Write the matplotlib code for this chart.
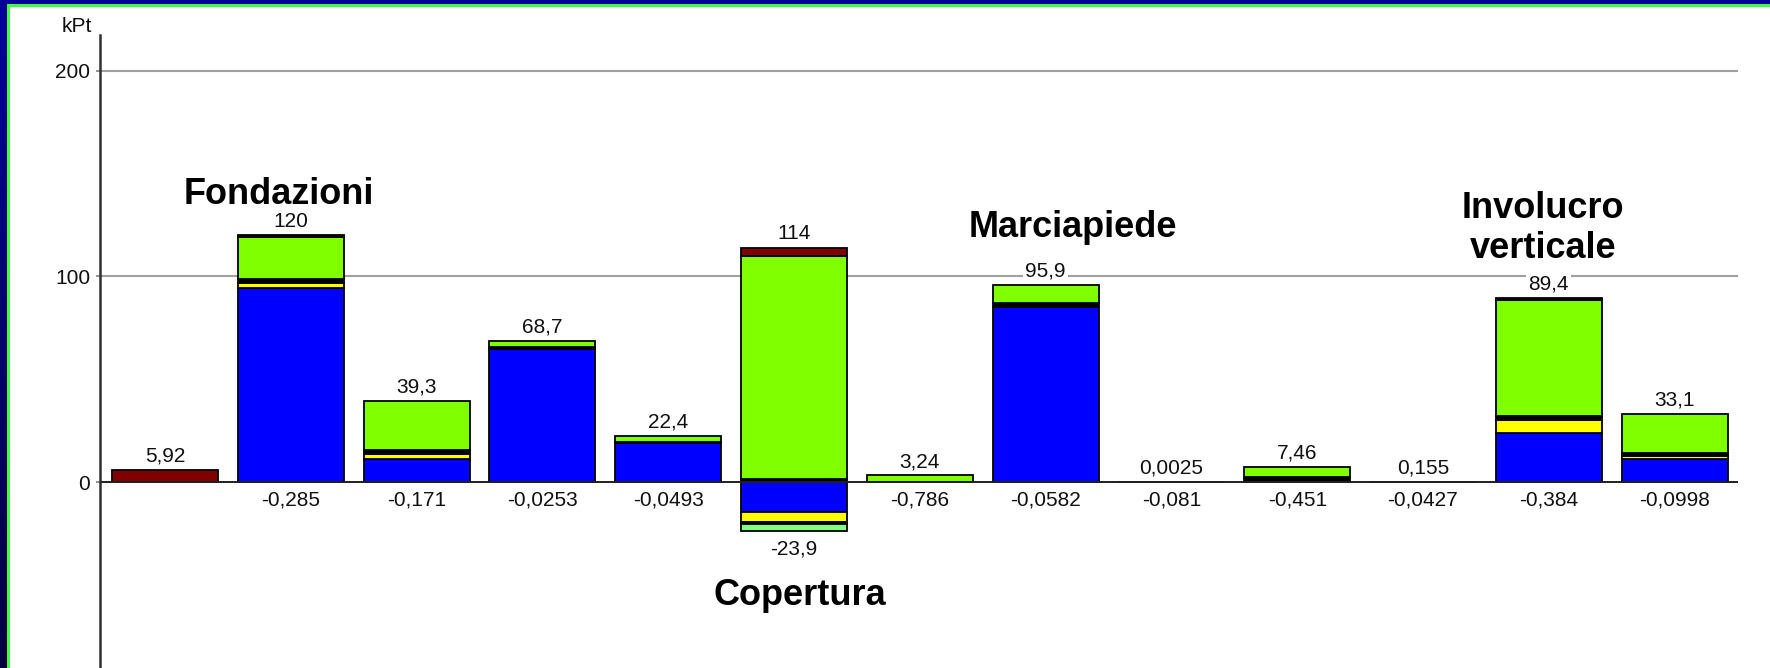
import numpy as np
import matplotlib
matplotlib.use("Agg")
import matplotlib.pyplot as plt
from matplotlib import font_manager
from matplotlib.patches import Rectangle

# ---------------- data ----------------
n_bars = 13
blue    = [0, 94.3, 11.2, 64.5, 19.0, 0, 0, 85.3, 0, 0, 0, 24.0, 11.2]
yellow  = [0, 2.4, 2.4, 0, 0, 0, 0, 0, 0, 0, 0, 6.2, 1.6]
black   = [0, 2.1, 2.0, 1.0, 0.5, 1.5, 0, 1.6, 0.0025, 2.6, 0.155, 2.1, 1.5]
lime    = [0, 20.3, 23.7, 3.2, 2.9, 108.6, 3.24, 9.0, 0, 4.86, 0, 56.2, 18.8]
darkred = [5.92, 0.9, 0, 0, 0, 3.9, 0, 0, 0, 0, 0, 0.9, 0]

# negative contributions (visible only for Copertura)
neg_blue   = [0, 0, 0, 0, 0, -14.8, 0, 0, 0, 0, 0, 0, 0]
neg_yellow = [0, 0, 0, 0, 0, -4.5, 0, 0, 0, 0, 0, 0, 0]
neg_black  = [0, 0, 0, 0, 0, -1.3, 0, 0, 0, 0, 0, 0, 0]
neg_pale   = [0, 0, 0, 0, 0, -3.3, 0, 0, 0, 0, 0, 0, 0]

pos_totals = [5.92, 120, 39.3, 68.7, 22.4, 114, 3.24, 95.9, 0.0025, 7.46, 0.155, 89.4, 33.1]
neg_totals = [None, -0.285, -0.171, -0.0253, -0.0493, -23.9, -0.786, -0.0582, -0.081,
              -0.451, -0.0427, -0.384, -0.0998]

yticks = [0, 100, 200]
unit_label = "kPt"
annotations = [("Fondazioni", 0.906, 140.1),
               ("Copertura", 5.048, -55.0),
               ("Marciapiede", 7.218, 123.6),
               ("Involucro\nverticale", 10.954, 123.4)]

pos_series = [(blue, "#0000FF"), (yellow, "#FFFF00"), (black, "#000000"),
              (lime, "#80FF00"), (darkred, "#800000")]
neg_series = [(neg_blue, "#0000FF"), (neg_yellow, "#FFFF00"), (neg_black, "#000000"),
              (neg_pale, "#80FF80")]

# ---------------- fonts ----------------
names = {f.name for f in font_manager.fontManager.ttflist}
small_font = "Liberation Sans Narrow" if "Liberation Sans Narrow" in names else "Liberation Sans"
small_size = 16 if small_font == "Liberation Sans Narrow" else 15
bold_font = "Liberation Sans"

W, H = 1770, 668
fig = plt.figure(figsize=(W / 100, H / 100), dpi=100)
fig.patch.set_facecolor("white")

ax = fig.add_axes([100 / W, 0, 1638 / W, (H - 35) / H])
ax.set_xlim(-0.5167, 12.504)
ax.set_ylim(-90.5, 217.5)
ax.set_facecolor("white")

x = np.arange(n_bars)
width = 0.843
edge_kw = dict(edgecolor="black", linewidth=1.3, zorder=2)

# positive stacks
bottom = np.zeros(n_bars)
for vals, col in pos_series:
    vals = np.array(vals, dtype=float)
    mask = vals > 0
    ax.bar(x[mask], vals[mask], width, bottom=bottom[mask], color=col, **edge_kw)
    bottom += vals

# negative stacks
nbottom = np.zeros(n_bars)
for vals, col in neg_series:
    vals = np.array(vals, dtype=float)
    mask = vals < 0
    ax.bar(x[mask], vals[mask], width, bottom=nbottom[mask], color=col, **edge_kw)
    nbottom += vals

# grid and zero line
for yt in yticks[1:]:
    ax.axhline(yt, color="#a0a0a0", lw=1.5, zorder=0.5)
ax.axhline(0, color="#202020", lw=1.4, zorder=2.5)

for s in ["top", "right", "bottom"]:
    ax.spines[s].set_visible(False)
ax.spines["left"].set_color("#303030")
ax.spines["left"].set_linewidth(1.8)
ax.set_xticks([])
ax.set_yticks(yticks)
ax.set_yticklabels([str(t) for t in yticks], fontfamily=small_font, fontsize=small_size,
                   color="#101010")
ax.tick_params(axis="y", length=3, width=1.2, color="#808080", pad=4)


def fmt(v):
    return ("%.3g" % v).replace(".", ",")


for i in range(n_bars):
    top = pos_totals[i]
    ax.annotate(fmt(top), (x[i], top), xytext=(0, 6), textcoords="offset points",
                ha="center", va="baseline", fontfamily=small_font, fontsize=small_size,
                color="#101010", zorder=3,
                bbox=dict(boxstyle="square,pad=0.1", fc="white", ec="none"))
    if neg_totals[i] is not None:
        ybase = min(neg_totals[i], 0) if neg_totals[i] < -1 else 0
        ax.annotate(fmt(neg_totals[i]), (x[i], ybase), xytext=(0, -17),
                    textcoords="offset points", ha="center", va="baseline",
                    fontfamily=small_font, fontsize=small_size, color="#101010", zorder=3)

for txt, xa, ya in annotations:
    ax.text(xa, ya, txt, ha="center", va="center", fontfamily=bold_font,
            fontweight="bold", fontsize=26, color="black", linespacing=1.2, zorder=4)

fig.text(77 / W, 1 - 27 / H, unit_label, ha="center", va="center",
         fontfamily=small_font, fontsize=small_size, color="#101010")

# frame: navy gradient on the left, navy top, green inner line
gax = fig.add_axes([0, 0, 7 / W, 1])
grad = np.linspace(0, 1, 256).reshape(-1, 1)
top_c = np.array([0.0, 0.0, 0.6])
bot_c = np.array([0.0, 0.0, 0.25])
img = (top_c * (1 - grad) + bot_c * grad).reshape(256, 1, 3)
gax.imshow(img, aspect="auto", extent=[0, 1, 0, 1])
gax.set_axis_off()
fig.add_artist(Rectangle((0, 1 - 4 / H), 1, 4 / H, transform=fig.transFigure,
                         facecolor="#000099", edgecolor="none", zorder=10))
fig.add_artist(Rectangle((7 / W, 1 - 7 / H), 1, 3 / H, transform=fig.transFigure,
                         facecolor="#40FF40", edgecolor="none", zorder=10))
fig.add_artist(Rectangle((7 / W, 0), 3 / W, 1 - 4 / H, transform=fig.transFigure,
                         facecolor="#40FF40", edgecolor="none", zorder=10))

fig.savefig("out.png", dpi=100, facecolor="white")
